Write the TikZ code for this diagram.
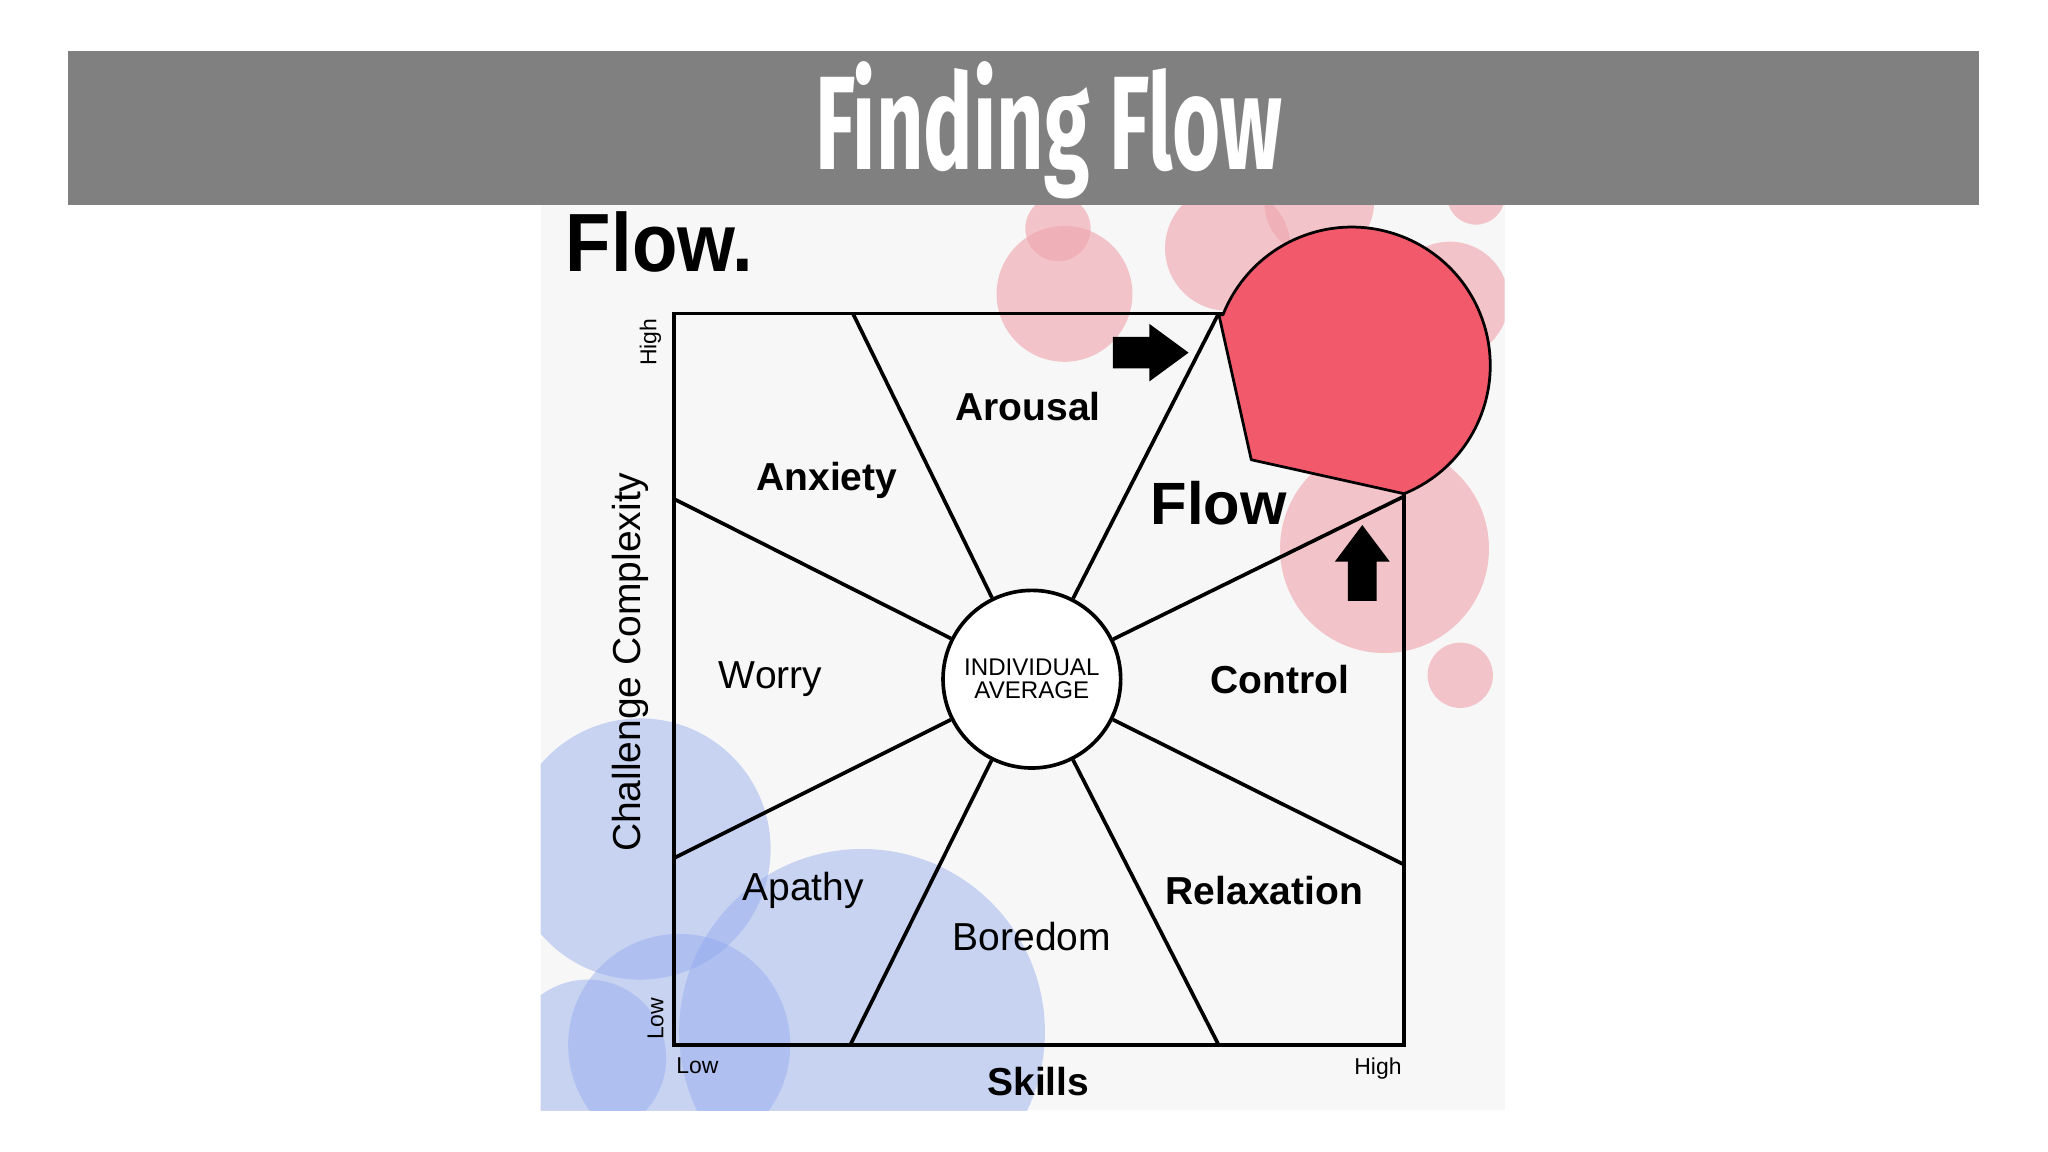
\documentclass[tikz,border=0pt]{standalone}
\usepackage{fontspec}
\setmainfont{Liberation Sans}
\newfontfamily\titlefont{Fira Sans}
\definecolor{pinkb}{HTML}{EFA3AB}
\definecolor{blueb}{HTML}{8FA8EE}
\definecolor{flowred}{HTML}{F25A6C}
\tikzset{
 lbl/.style={font=\fontsize{17}{17}\selectfont\bfseries},
 lblr/.style={font=\fontsize{17}{17}\selectfont},
 small/.style={font=\fontsize{10}{10}\selectfont},
 ray/.style={line width=1.6pt},
}
\begin{document}
\begin{tikzpicture}[x=0.02cm,y=-0.02cm]
\useasboundingbox (0,0) rectangle (1568,882);
\fill[white] (0,0) rectangle (1568,882);
\fill[black!3] (414,145) rectangle (1152,850);
\begin{scope}
\clip (414,145) rectangle (1152,850);
\foreach \x/\y/\r in {810/175/25, 815/225/52, 940/190/48, 1110/230/45, 1060/420/80, 1118/517/25, 1130/150/22, 1010/155/42}
  \fill[pinkb,opacity=0.6] (\x,\y) circle (\r);
\foreach \x/\y/\r in {490/650/100, 520/800/85, 660/790/140, 450/810/60}
  \fill[blueb,opacity=0.45] (\x,\y) circle (\r);
\end{scope}
% main square
\draw[ray] (516,240) rectangle (1075,800);
\node[circle,draw,line width=1.6pt,minimum size=136*0.02cm,fill=white,inner sep=0pt,align=center,font=\fontsize{10.5}{10}\selectfont] (c) at (790,520) {INDIVIDUAL\\AVERAGE};
\foreach \p in {(653,240),(933,240),(516,382),(516,657),(651,800),(933,800),(1075,380),(1075,662)}
  \draw[ray] (c) -- \p;
% red flow blob
\draw[fill=flowred,line width=1.2pt,line join=round] (933,240) -- (958,352) -- (1075,378) arc[start angle=67.8,end angle=-158.6,radius=106] -- cycle;
% arrows
\fill (852,258) -- (880,258) -- (880,248) -- (910,270) -- (880,292) -- (880,282) -- (852,282) -- cycle;
\fill (1032,460) -- (1032,430) -- (1022,430) -- (1043,402) -- (1064,430) -- (1054,430) -- (1054,460) -- cycle;
% labels
\node[lbl] (ar) at (787,311) {Arousal};
\node[lbl] (an) at (633,368) {Anxiety};
\node[font=\fontsize{26}{26}\selectfont\bfseries] (fl) at (933,385) {Flow};
\node[lblr] (wo) at (590,520) {Worry};
\node[lbl] (co) at (980,520) {Control};
\node[lblr] (ap) at (615,682) {Apathy};
\node[lblr] (bo) at (790,717) {Boredom};
\node[lbl] (re) at (968,682) {Relaxation};
\node[font=\fontsize{36}{36}\selectfont\bfseries,xscale=0.9] (ft) at (505,185) {Flow.};
\node[font=\fontsize{17}{17}\selectfont,rotate=90] (cc) at (483,507) {Challenge Complexity};
\node[small,rotate=90] (hy) at (498,262) {High};
\node[small,rotate=90] (ly) at (502,780) {Low};
\node[small] (lx) at (534,816) {Low};
\node[lbl] (sk) at (795,828) {Skills};
\node[small] (hx) at (1055,818) {High};
% title bar
\fill[black!50] (52,39) rectangle (1515,157);
\node[text=white,font=\titlefont\fontsize{58}{58}\selectfont\bfseries,xscale=0.62] (t) at (803,100) {Finding Flow};
\end{tikzpicture}
\end{document}
